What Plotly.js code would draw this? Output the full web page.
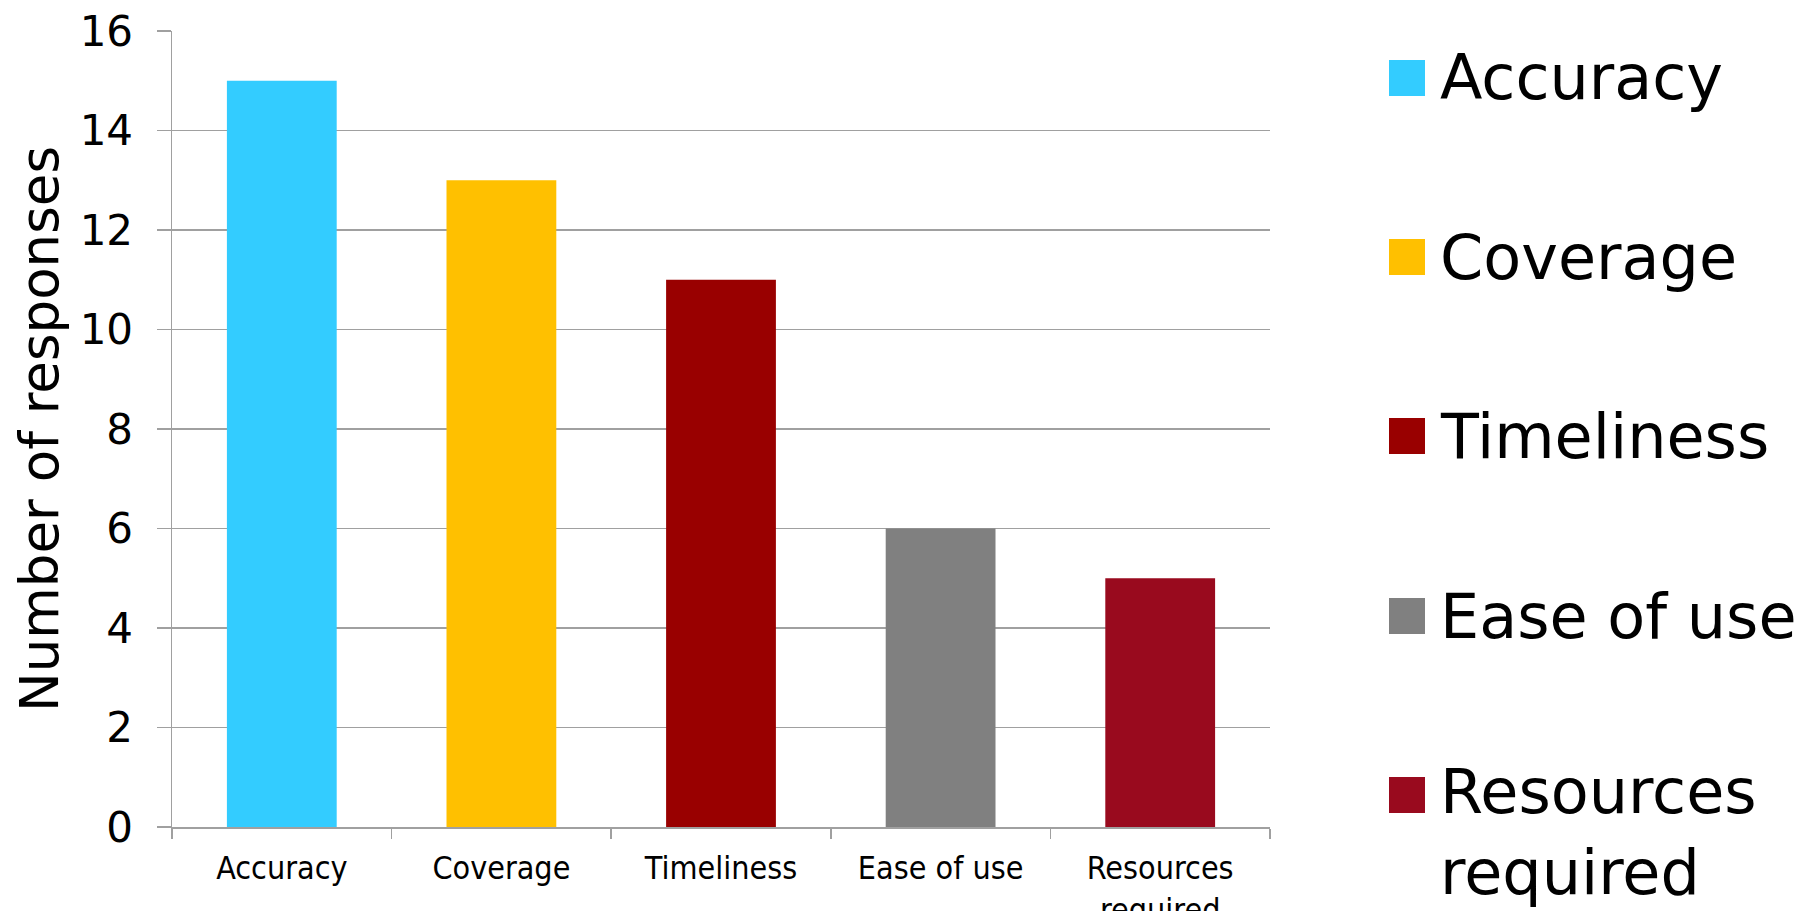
<!DOCTYPE html>
<html>
<head>
<meta charset="utf-8">
<script src="https://cdn.plot.ly/plotly-3.0.1.min.js"></script>
<style>
  html, body { margin: 0; padding: 0; background: #ffffff; }
  #chart { width: 1812px; height: 911px; }
</style>
</head>
<body>
<div id="chart"></div>
<script>
// ---- data ----
const categories = ["Accuracy", "Coverage", "Timeliness", "Ease of use", "Resources required"];
const tickLabels = ["Accuracy", "Coverage", "Timeliness", "Ease of use", "Resources<br>required"];
const legendLabels = ["Accuracy", "Coverage", "Timeliness", "Ease of use", "Resources<br>required"];
const responses = [15, 13, 11, 6, 5];
const barColors = ["#33CCFF", "#FFC000", "#990000", "#808080", "#990A1E"];
const yTicks = [0, 2, 4, 6, 8, 10, 12, 14, 16];

// ---- layout geometry (pixels) ----
const W = 1812, H = 911;
const plotL = 172, plotR = 1270, plotT = 31, plotB = 827;
const pw = plotR - plotL, ph = plotB - plotT;
const px2x = p => (p - plotL) / pw;
const px2y = p => (plotB - p) / ph;

const FONT = "DejaVu Sans, Verdana, sans-serif";
const gridCol = "#A0A0A0";

const trace = {
  type: "bar",
  x: tickLabels,
  y: responses,
  marker: { color: barColors, line: { width: 0 } },
  showlegend: false,
  hoverinfo: "skip"
};

// manual legend (large square swatches)
const legendCenters = [78, 257, 436, 616, 795];
const sq = 36;
const shapes = [];
const annotations = [];
categories.forEach((c, i) => {
  const cy = legendCenters[i];
  shapes.push({
    type: "rect", xref: "paper", yref: "paper",
    x0: px2x(1389), x1: px2x(1389 + sq),
    y0: px2y(cy + sq / 2), y1: px2y(cy - sq / 2),
    fillcolor: barColors[i], line: { width: 0 }
  });
  const multi = legendLabels[i].indexOf("<br>") >= 0;
  annotations.push({
    xref: "paper", yref: "paper",
    x: px2x(1438), xanchor: "left",
    y: multi ? px2y(cy - 42) : px2y(cy),
    yanchor: multi ? "top" : "middle",
    text: legendLabels[i], showarrow: false, align: "left",
    font: { family: FONT, size: 62, color: "#000000" }
  });
});

const layout = {
  width: W, height: H,
  margin: { l: plotL, r: W - plotR, t: plotT, b: H - plotB, pad: 0 },
  paper_bgcolor: "#ffffff",
  plot_bgcolor: "#ffffff",
  bargap: 0.5,
  showlegend: false,
  xaxis: {
    type: "category",
    tickson: "boundaries",
    ticks: "outside", ticklen: 10, tickwidth: 1.5, tickcolor: gridCol,
    showline: true, linecolor: gridCol, linewidth: 1.5,
    showgrid: false, zeroline: false,
    tickfont: { family: "DejaVu Sans Condensed, " + FONT, size: 32, color: "#000000" },
    ticklabelstandoff: 12,
    automargin: false
  },
  yaxis: {
    range: [0, 16],
    tickvals: yTicks,
    ticktext: yTicks.map(String),
    ticks: "outside", ticklen: 14, tickwidth: 1.5, tickcolor: gridCol,
    showline: true, linecolor: gridCol, linewidth: 1.5,
    showgrid: true, gridcolor: gridCol, gridwidth: 1.5,
    zeroline: false,
    tickfont: { family: FONT, size: 42, color: "#000000" },
    ticklabelstandoff: 15,
    title: { text: "Number of responses", font: { family: FONT, size: 53, color: "#000000" }, standoff: 4 },
    automargin: false
  },
  shapes: shapes,
  annotations: annotations
};

Plotly.newPlot("chart", [trace], layout, { staticPlot: true, displayModeBar: false });
</script>
</body>
</html>
